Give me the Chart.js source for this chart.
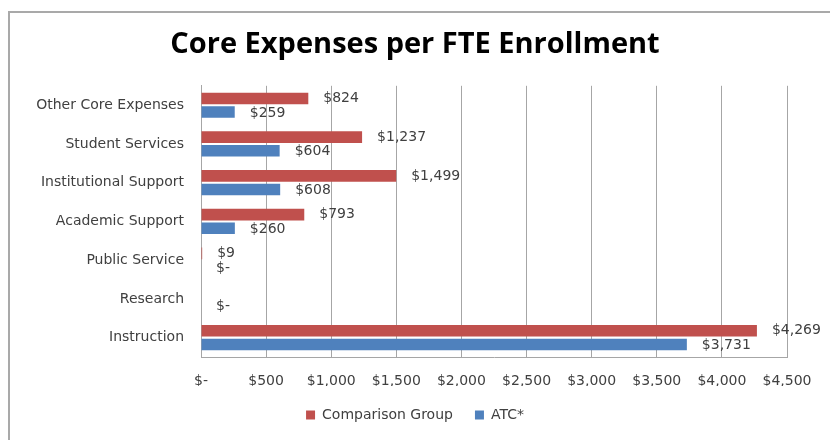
<!DOCTYPE html>
<html>
<head>
<meta charset="utf-8">
<script src="https://cdn.jsdelivr.net/npm/chart.js@4"></script>
<style>
  body { margin: 0; background: #fff; }
  #moldura {
    position: absolute; left: 8px; top: 11px; width: 900px; height: 500px;
    border-left: 2px solid #a9a9a9; border-top: 2px solid #a9a9a9;
  }
  #caixa { position: absolute; left: 0; top: 0; width: 830px; height: 440px; }
</style>
</head>
<body>
<div id="moldura"></div>
<div id="caixa"><canvas id="graficoDespesas"></canvas></div>
<script>
// Despesas por matricula FTE
const categorias = ["Other Core Expenses", "Student Services", "Institutional Support", "Academic Support", "Public Service", "Research", "Instruction"];
const grupoComparacao = [824, 1237, 1499, 793, 9, null, 4269];
const atc = [259, 604, 608, 260, 0, 0, 3731];
const ticksX = [0, 500, 1000, 1500, 2000, 2500, 3000, 3500, 4000, 4500];

const corVermelha = "#c0504d";
const corAzul = "#4f81bd";
const fonteTexto = '"DejaVu Sans"';

function formatarDolar(v) {
  if (v === 0) return "$-";
  return "$" + v.toLocaleString("en-US");
}

// escreve o valor ao lado de cada barra
const etiquetasValor = {
  id: "etiquetasValor",
  afterDatasetsDraw(chart) {
    const ctx = chart.ctx;
    ctx.save();
    ctx.font = "14px " + fonteTexto;
    ctx.fillStyle = "#404040";
    ctx.textBaseline = "middle";
    chart.data.datasets.forEach((ds, i) => {
      chart.getDatasetMeta(i).data.forEach((barra, j) => {
        const v = ds.data[j];
        if (v === null || v === undefined) return;
        ctx.fillText(formatarDolar(v), barra.x + 15, barra.y + (i === 1 ? 1 : 0));
      });
    });
    ctx.restore();
  }
};

document.addEventListener("DOMContentLoaded", () => {
  new Chart(document.getElementById("graficoDespesas"), {
    type: "bar",
    data: {
      labels: categorias,
      datasets: [{
        label: "Comparison Group",
        data: grupoComparacao,
        backgroundColor: corVermelha,
        categoryPercentage: 0.7,
        barPercentage: 0.85
      }, {
        label: "ATC*",
        data: atc,
        backgroundColor: corAzul,
        categoryPercentage: 0.7,
        barPercentage: 0.85
      }]
    },
    options: {
      indexAxis: "y",
      responsive: true,
      maintainAspectRatio: false,
      animation: false,
      layout: { padding: { left: 0, right: 0, top: 0, bottom: 8 } },
      plugins: {
        title: {
          display: true,
          text: "Core Expenses per FTE Enrollment",
          color: "#000",
          font: { family: "Open Sans", size: 29, weight: "bold" },
          padding: { top: 27, bottom: 24 }
        },
        legend: {
          position: "bottom",
          labels: {
            boxWidth: 9,
            boxHeight: 9,
            color: "#404040",
            font: { family: fonteTexto, size: 14 },
            padding: 22
          }
        },
        tooltip: { enabled: false }
      },
      scales: {
        x: {
          min: 0,
          max: 4500,
          afterBuildTicks: escala => { escala.ticks = ticksX.map(v => ({ value: v })); },
          afterFit: escala => { escala.height = 29; },
          grid: { color: "#a6a6a6", drawTicks: false },
          border: { color: "#a6a6a6" },
          ticks: {
            color: "#404040",
            font: { family: fonteTexto, size: 14 },
            padding: 16,
            callback: v => formatarDolar(v)
          }
        },
        y: {
          afterFit: escala => { escala.width = 201; },
          grid: { display: false, drawTicks: false },
          border: { color: "#a6a6a6" },
          ticks: {
            color: "#404040",
            font: { family: fonteTexto, size: 14 },
            padding: 17
          }
        },
        // margem direita do grafico
        yDireita: {
          type: "category",
          labels: categorias,
          position: "right",
          display: true,
          afterFit: escala => { escala.width = 43; },
          grid: { display: false, drawTicks: false },
          border: { display: false },
          ticks: { display: false }
        }
      }
    },
    plugins: [etiquetasValor]
  });
});
</script>
</body>
</html>
